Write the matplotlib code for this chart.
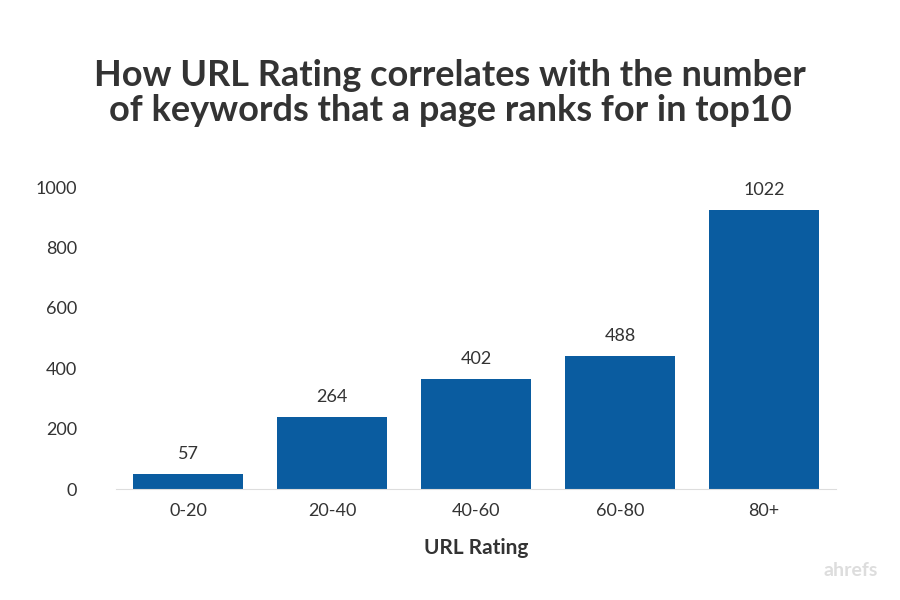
import matplotlib.pyplot as plt

categories = ['0-20', '20-40', '40-60', '60-80', '80+']
bar_heights = [50, 238, 364, 440, 924]   # drawn heights
bar_labels = [57, 264, 402, 488, 1022]   # printed values
y_ticks = [0, 200, 400, 600, 800, 1000]

plt.rcParams['font.family'] = 'Lato'

fig = plt.figure(figsize=(9, 6), dpi=100)
ax = fig.add_axes([0.129, 0.185, 0.8, 0.503])

x = range(len(categories))
ax.bar(x, bar_heights, width=0.76, color='#0a5ca0', zorder=2)
for i, (h, lab) in enumerate(zip(bar_heights, bar_labels)):
    ax.text(i, h + 40, str(lab), ha='center', va='bottom', fontsize=13, color='#333333')

ax.set_xlim(-0.5, len(categories) - 0.5)
ax.set_ylim(0, 1000)
ax.set_xticks(list(x))
ax.set_xticklabels(categories, fontsize=13, color='#333333')
ax.set_yticks(y_ticks)
ax.set_yticklabels([str(t) for t in y_ticks], fontsize=13, color='#333333')
ax.tick_params(axis='y', length=0, pad=28)
ax.tick_params(axis='x', length=0, pad=10)
for s in ['top', 'right', 'left']:
    ax.spines[s].set_visible(False)
ax.spines['bottom'].set_color('#dddddd')
ax.set_xlabel('URL Rating', fontsize=15, fontweight='bold', color='#333333', labelpad=14)

fig.text(0.5, 0.845, 'How URL Rating correlates with the number\nof keywords that a page ranks for in top10',
         ha='center', va='center', fontsize=26, fontweight='bold', color='#333333', linespacing=1.05)
fig.text(0.975, 0.035, 'ahrefs', ha='right', va='bottom', fontsize=14, fontweight='bold', color='#dddddd')

fig.savefig('out.png', dpi=100)
